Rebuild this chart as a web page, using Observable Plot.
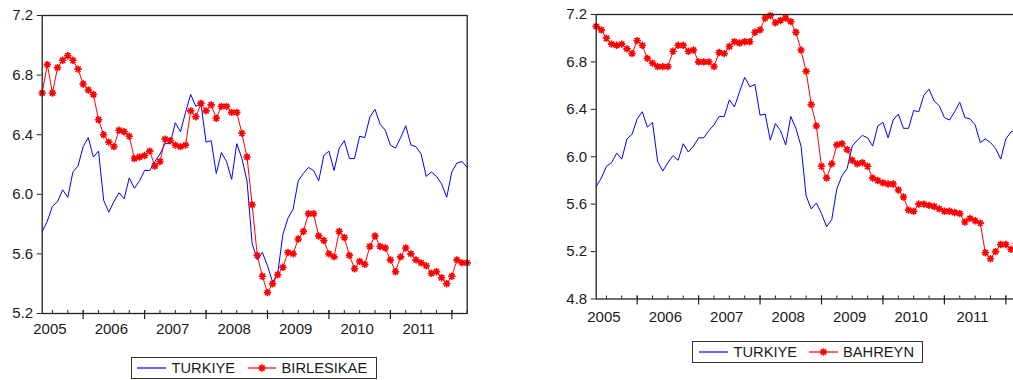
<!DOCTYPE html>
<html>
<head>
<meta charset="utf-8">
<script src="https://cdn.jsdelivr.net/npm/d3@7"></script>
<script src="https://cdn.jsdelivr.net/npm/@observablehq/plot@0.6"></script>
<style>
html, body { margin: 0; padding: 0; background: #fff; overflow: hidden; }
#wrap { position: relative; width: 1013px; height: 380px; overflow: hidden; font-family: "Liberation Sans", Arial, sans-serif; }
.panel { position: absolute; top: 0; }
.legend { position: absolute; box-sizing: border-box; border: 1px solid #333; background: #fff; }
.legend span { position: absolute; top: 50%; transform: translateY(-50%); font-size: 14.7px; color: #1a1a1a; white-space: nowrap; line-height: 1; }
.legend svg { position: absolute; top: 50%; transform: translateY(-50%); overflow: visible; }
</style>
</head>
<body>
<div id="wrap"></div>
<script>
// ---- data (monthly, first observation 2005M05, last 2012M04) ----
const firstYear = 2005, firstMonth = 5;
const turkiye = [
  5.75,5.82,5.92,5.95,6.03,5.98,6.15,6.19,6.32,6.38,
  6.25,6.29,5.96,5.88,5.95,6.01,5.97,6.11,6.04,6.09,
  6.16,6.16,6.22,6.27,6.34,6.34,6.48,6.42,6.55,6.67,
  6.59,6.61,6.35,6.36,6.14,6.28,6.22,6.10,6.34,6.24,
  6.09,5.67,5.56,5.61,5.52,5.41,5.47,5.73,5.84,5.90,
  6.09,6.14,6.18,6.16,6.09,6.26,6.29,6.16,6.31,6.36,
  6.24,6.24,6.39,6.38,6.52,6.57,6.47,6.43,6.33,6.31,
  6.38,6.46,6.33,6.32,6.27,6.12,6.15,6.12,6.07,5.98,
  6.15,6.21,6.22,6.18
];
const birlesikae = [
  6.68,6.87,6.68,6.85,6.90,6.93,6.90,6.84,6.74,6.70,
  6.67,6.50,6.40,6.35,6.32,6.43,6.42,6.39,6.24,6.25,
  6.26,6.29,6.19,6.22,6.37,6.36,6.33,6.32,6.33,6.56,
  6.52,6.61,6.56,6.60,6.51,6.59,6.59,6.55,6.55,6.41,
  6.25,5.93,5.59,5.45,5.34,5.40,5.46,5.51,5.61,5.60,
  5.70,5.75,5.87,5.87,5.72,5.69,5.60,5.58,5.75,5.71,
  5.59,5.50,5.55,5.53,5.65,5.72,5.65,5.64,5.56,5.48,
  5.58,5.64,5.60,5.56,5.54,5.52,5.47,5.48,5.44,5.40,
  5.45,5.56,5.54,5.54
];
const bahreyn = [
  7.10,7.07,7.00,6.95,6.94,6.95,6.91,6.87,6.98,6.94,
  6.83,6.79,6.76,6.76,6.76,6.89,6.94,6.94,6.89,6.90,
  6.80,6.80,6.80,6.76,6.88,6.87,6.93,6.97,6.96,6.97,
  6.97,7.05,7.07,7.17,7.19,7.13,7.15,7.17,7.14,7.05,
  6.90,6.72,6.44,6.26,5.92,5.82,5.94,6.10,6.11,6.06,
  5.97,5.94,5.95,5.92,5.82,5.80,5.78,5.77,5.77,5.72,
  5.66,5.55,5.54,5.60,5.60,5.59,5.58,5.56,5.54,5.54,
  5.53,5.52,5.45,5.48,5.46,5.44,5.19,5.14,5.20,5.26,
  5.26,5.22,5.27,5.28
];
const yearLabels = ["2005","2006","2007","2008","2009","2010","2011"];
const yearTicks = [2006, 2007, 2008, 2009, 2010, 2011, 2012];
const leftYTicks = [5.2, 5.6, 6.0, 6.4, 6.8, 7.2];
const rightYTicks = [4.8, 5.2, 5.6, 6.0, 6.4, 6.8, 7.2];
const seriesNames = { base: "TURKIYE", left: "BIRLESIKAE", right: "BAHREYN" };

// ---- helpers ----
const t = i => firstYear + (firstMonth - 1) / 12 + i / 12;   // decimal-year time of observation i
const toRows = arr => arr.map((v, i) => ({ t: t(i), v }));
const xDomain = [t(0), t(turkiye.length - 1)];
const quarterTicks = d3.range(Math.ceil(xDomain[0] * 4), Math.floor(xDomain[1] * 4) + 1).map(q => q / 4);
const labelRows = yearLabels.map(y => ({ pos: +y + 5.5 / 12, label: y }));

const star8 = {
  draw(ctx, size) {
    const r = Math.sqrt(size / Math.PI);
    const d = r * Math.SQRT1_2;
    ctx.moveTo(-r, 0); ctx.lineTo(r, 0);
    ctx.moveTo(0, -r); ctx.lineTo(0, r);
    ctx.moveTo(-d, -d); ctx.lineTo(d, d);
    ctx.moveTo(-d, d); ctx.lineTo(d, -d);
    const c = r * 0.45;
    ctx.moveTo(c, 0); ctx.arc(0, 0, c, 0, 2 * Math.PI);
  }
};

const BLUE = "#0000ff", RED = "#ff0000", INK = "#222";
const FONT = "'Liberation Sans', Arial, sans-serif";

function panel({ red, yDomain, yTicks, marginLeft, marginTop, plotH, width, height, labelDy }) {
  const plotW = 425;
  const y0 = yDomain[0];
  return Plot.plot({
    width, height,
    marginLeft, marginTop,
    marginRight: width - marginLeft - plotW,
    marginBottom: height - marginTop - plotH,
    x: { domain: xDomain, axis: null },
    y: { domain: yDomain, axis: null, label: null },
    style: { fontFamily: FONT, fontSize: "15px", color: "#1a1a1a", background: "transparent", overflow: "visible" },
    marks: [
      Plot.ruleX(quarterTicks, { x: d => d, y1: y0, y2: y0, insetTop: -3, stroke: INK, strokeWidth: 1 }),
      Plot.ruleX(yearTicks, { x: d => d, y1: y0, y2: y0, insetTop: -3, insetBottom: -6, stroke: INK, strokeWidth: 1.2 }),
      Plot.axisY(yTicks, { tickSize: 5, tickPadding: 4, tickFormat: d => d.toFixed(1), label: null, fontSize: 15, stroke: INK }),
      Plot.text(labelRows, { x: "pos", y: () => y0, text: "label", dy: labelDy, fontSize: 15, fill: "#1a1a1a" }),
      Plot.line(toRows(turkiye), { x: "t", y: "v", stroke: BLUE, strokeWidth: 1 }),
      Plot.line(toRows(red), { x: "t", y: "v", stroke: RED, strokeWidth: 1 }),
      Plot.dot(toRows(red), { x: "t", y: "v", symbol: star8, r: 3.7, stroke: RED, fill: RED, strokeWidth: 1.6 }),
      Plot.frame({ stroke: INK, strokeWidth: 1.3 })
    ]
  });
}

const wrap = document.getElementById("wrap");

const left = panel({ red: birlesikae, yDomain: [5.2, 7.2], yTicks: leftYTicks,
  marginLeft: 41.7, marginTop: 15, plotH: 298, width: 480, height: 345, labelDy: 15.3 });
left.classList.add("panel"); left.style.left = "0px";
wrap.appendChild(left);

const right = panel({ red: bahreyn, yDomain: [4.8, 7.2], yTicks: rightYTicks,
  marginLeft: 45.7, marginTop: 14, plotH: 284.5, width: 485, height: 330, labelDy: 18.4 });
right.classList.add("panel"); right.style.left = "550px";
wrap.appendChild(right);

function legend(box, items) {
  const div = document.createElement("div");
  div.className = "legend";
  Object.assign(div.style, { left: box.x + "px", top: box.y + "px", width: box.w + "px", height: box.h + "px" });
  for (const it of items) {
    const lx = it.lineX - box.x - 1;
    let svg = `<svg width="${it.lineW}" height="10" style="left:${lx}px">` +
      `<line x1="0" y1="5" x2="${it.lineW}" y2="5" stroke="${it.color}" stroke-width="1.2"/>`;
    if (it.marker) {
      const cx = it.lineW / 2, r = 3.7, d = r * Math.SQRT1_2;
      svg += `<g stroke="${it.color}" stroke-width="1.6" fill="${it.color}">` +
        `<line x1="${cx - r}" y1="5" x2="${cx + r}" y2="5"/><line x1="${cx}" y1="${5 - r}" x2="${cx}" y2="${5 + r}"/>` +
        `<line x1="${cx - d}" y1="${5 - d}" x2="${cx + d}" y2="${5 + d}"/><line x1="${cx - d}" y1="${5 + d}" x2="${cx + d}" y2="${5 - d}"/>` +
        `<circle cx="${cx}" cy="5" r="${r * 0.45}"/></g>`;
    }
    svg += `</svg>`;
    div.insertAdjacentHTML("beforeend", svg);
    div.insertAdjacentHTML("beforeend", `<span style="left:${it.textX - box.x - 1}px">${it.label}</span>`);
  }
  wrap.appendChild(div);
}

legend({ x: 131, y: 357, w: 246, h: 22 }, [
  { label: seriesNames.base, color: BLUE, lineX: 137, lineW: 29, textX: 171.5 },
  { label: seriesNames.left, color: RED, lineX: 248, lineW: 28, textX: 281.5, marker: true }
]);
legend({ x: 692, y: 341, w: 231, h: 22 }, [
  { label: seriesNames.base, color: BLUE, lineX: 699, lineW: 29, textX: 733.5 },
  { label: seriesNames.right, color: RED, lineX: 809, lineW: 29, textX: 843, marker: true }
]);
</script>
</body>
</html>
